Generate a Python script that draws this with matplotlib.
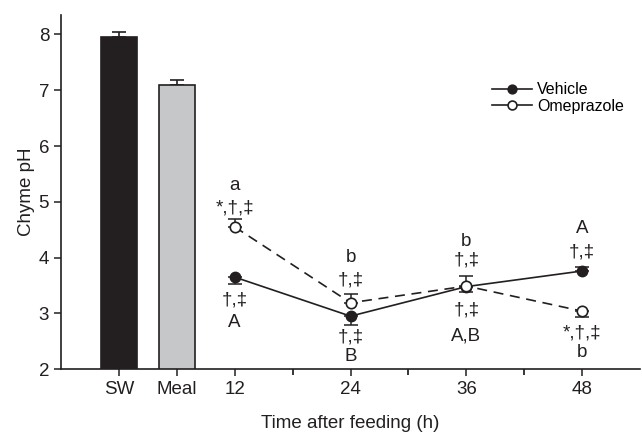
import matplotlib.pyplot as plt

plt.rcParams['font.family'] = ['Liberation Sans', 'DejaVu Sans']

# bars: seawater and meal
bar_labels = ['SW', 'Meal']
bar_x = [0, 6]
bar_means = [7.95, 7.09]
bar_err = [0.09, 0.10]

# time course
hours = [12, 24, 36, 48]
vehicle = [3.65, 2.95, 3.48, 3.76]
vehicle_err = [0.12, 0.15, 0.10, 0.07]
omeprazole = [4.55, 3.19, 3.49, 3.04]
omeprazole_err = [0.15, 0.15, 0.18, 0.11]

# significance labels (text, hour, y)
annotations = [
    ('a', 12, 5.30), ('*,\u2020,\u2021', 12, 4.89), ('\u2020,\u2021', 12, 3.24), ('A', 12, 2.84),
    ('b', 24, 4.01), ('\u2020,\u2021', 24, 3.60), ('\u2020,\u2021', 24, 2.58), ('B', 24, 2.22),
    ('b', 36, 4.28), ('\u2020,\u2021', 36, 3.96), ('\u2020,\u2021', 36, 3.06), ('A,B', 36, 2.59),
    ('A', 48, 4.53), ('\u2020,\u2021', 48, 4.10), ('*,\u2020,\u2021', 48, 2.65), ('b', 48, 2.29),
]

fig = plt.figure(figsize=(6.42, 4.40), dpi=100)
ax = fig.add_axes([0.095, 0.161, 0.902, 0.805])

ax.bar(bar_x, bar_means, width=3.75, bottom=0, color=['#231f20', '#c6c7c9'],
       edgecolor='#231f20', linewidth=1.2, zorder=2)
ax.errorbar(bar_x, bar_means, yerr=[[0, 0], bar_err], fmt='none', ecolor='#231f20',
            elinewidth=1.2, capsize=5, capthick=1.2, zorder=1)

# vehicle: error bars below except at 48 h
v_lo = [vehicle_err[0], vehicle_err[1], vehicle_err[2], 0]
v_hi = [0, 0, 0, vehicle_err[3]]
o_lo = [0, 0, 0, omeprazole_err[3]]
o_hi = [omeprazole_err[0], omeprazole_err[1], omeprazole_err[2], 0]

ax.errorbar(hours, vehicle, yerr=[v_lo, v_hi], fmt='none', ecolor='#231f20',
            elinewidth=1.1, capsize=5, capthick=1.1, zorder=3)
ax.errorbar(hours, omeprazole, yerr=[o_lo, o_hi], fmt='none', ecolor='#231f20',
            elinewidth=1.1, capsize=5, capthick=1.1, zorder=3)
ax.plot(hours, vehicle, '-', color='#231f20', lw=1.2, marker='o', ms=7.5,
        mfc='#231f20', mec='#231f20', label='Vehicle', zorder=4)
ax.plot(hours, omeprazole, '--', color='#231f20', lw=1.2, marker='o', ms=7.5,
        mfc='white', mec='#231f20', mew=1.2, label='Omeprazole', dashes=(6, 4), zorder=4)

for txt, h, y in annotations:
    ax.text(h, y, txt, ha='center', va='center', fontsize=13.5, color='#231f20')

ax.set_xlim(-6, 54)
ax.set_ylim(2, 8.35)
ax.set_xticks(bar_x + hours)
ax.set_xticklabels(bar_labels + [str(h) for h in hours])
ax.set_xticks([18, 30, 42], minor=True)
ax.set_yticks([2, 3, 4, 5, 6, 7, 8])
ax.tick_params(axis='both', direction='out', length=5, width=1.1, labelsize=13.5, colors='#231f20')
ax.tick_params(axis='x', which='minor', direction='out', length=4, width=1.1)
for s in ['top', 'right']:
    ax.spines[s].set_visible(False)
for s in ['left', 'bottom']:
    ax.spines[s].set_linewidth(1.2)
    ax.spines[s].set_color('#231f20')

ax.set_ylabel('Chyme pH', fontsize=13.5, color='#231f20', labelpad=3)
ax.set_xlabel('Time after feeding (h)', fontsize=13.5, color='#231f20', labelpad=12)

leg = ax.legend(loc='upper left', bbox_to_anchor=(0.72, 0.85), frameon=False,
                fontsize=11.5, handlelength=2.5, handletextpad=0.3, labelspacing=0.1,
                markerscale=0.85)
for line in leg.get_lines():
    line.set_linestyle('-')

fig.savefig('out.png', dpi=100)
